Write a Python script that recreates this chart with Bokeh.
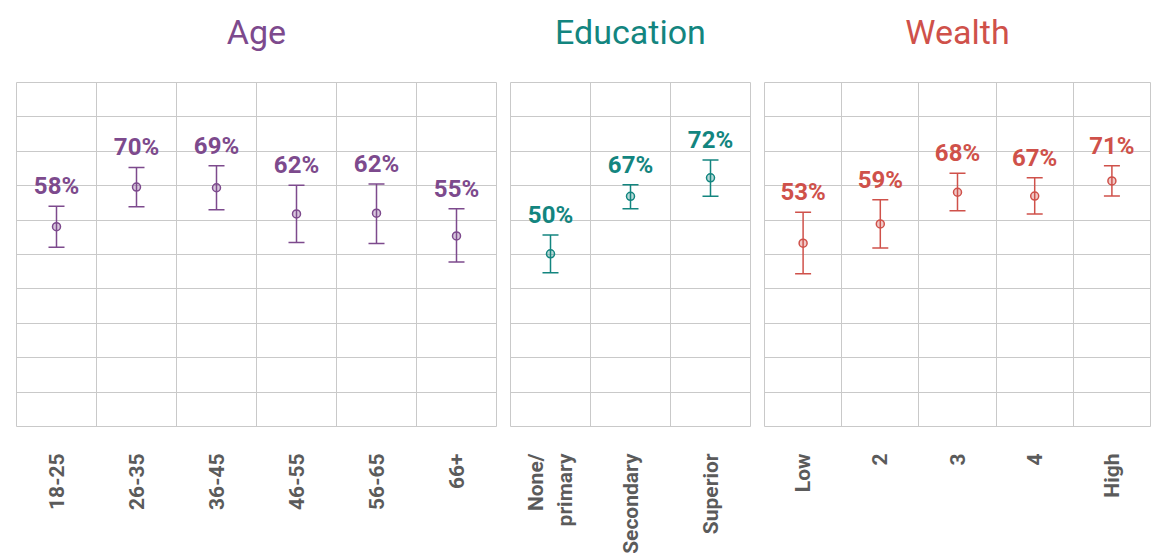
import math
from bokeh.plotting import figure
from bokeh.layouts import row
from bokeh.models import (ColumnDataSource, Whisker, TeeHead, FixedTicker, Grid,
                          Range1d, LabelSet, Title)
from bokeh.core.properties import value
from bokeh.embed import file_html
from bokeh.resources import INLINE

# ---- data (percent) ----
age_cats = ["18-25", "26-35", "36-45", "46-55", "56-65", "66+"]
age_val = [58.1, 69.6, 69.4, 61.8, 62.0, 55.4]
age_low = [52.1, 63.9, 63.0, 53.5, 53.2, 47.8]
age_high = [64.0, 75.3, 75.8, 70.1, 70.5, 63.3]

edu_cats = ["None/\nprimary", "Secondary", "Superior"]
edu_val = [50.2, 66.9, 72.3]
edu_low = [44.7, 63.3, 66.9]
edu_high = [55.7, 70.3, 77.5]

wealth_cats = ["Low", "2", "3", "4", "High"]
wealth_val = [53.3, 58.9, 68.1, 67.0, 71.4]
wealth_low = [44.4, 51.9, 62.7, 61.8, 67.0]
wealth_high = [62.3, 65.9, 73.6, 72.3, 75.8]

titles = ["Age", "Education", "Wealth"]
colors = ["#7D4A8D", "#13857F", "#CF514A"]

GRID = "#c9c9c9"
FONT = "Roboto"
FH = 344


def panel(title, cats, vals, lows, highs, color, fw, bl, br):
    n = len(cats)
    xs = [i + 0.5 for i in range(n)]
    src = ColumnDataSource(dict(
        x=xs, val=vals, low=lows, high=highs,
        label=[f"{round(v)}%" for v in vals],
    ))
    p = figure(frame_width=fw, frame_height=FH, output_backend="svg",
               toolbar_location=None, y_axis_location=None,
               x_range=Range1d(0, n), y_range=Range1d(0, 100),
               min_border_left=bl, min_border_right=br,
               min_border_top=82, min_border_bottom=0)
    # spacer between heading and frame (closest to the frame)
    p.add_layout(Title(text=" ", text_font_size="10px", standoff=4), "above")
    p.add_layout(Title(text=title, align="center", vertical_align="top",
                       text_font=FONT, text_font_style="normal",
                       text_font_size="34px", text_color=color, standoff=23),
                 "above")

    p.outline_line_color = GRID
    p.outline_line_width = 1
    p.xgrid.visible = False
    p.ygrid.visible = False
    p.add_layout(Grid(dimension=0, ticker=FixedTicker(ticks=list(range(1, n))),
                      grid_line_color=GRID, grid_line_width=1))
    p.add_layout(Grid(dimension=1, ticker=FixedTicker(ticks=list(range(0, 101, 10))),
                      grid_line_color=GRID, grid_line_width=1))

    ax = p.xaxis[0]
    ax.ticker = FixedTicker(ticks=xs)
    ax.major_label_overrides = {x: c for x, c in zip(xs, cats)}
    ax.major_label_orientation = math.pi / 2
    ax.major_label_standoff = 21
    ax.major_tick_line_color = None
    ax.minor_tick_line_color = None
    ax.axis_line_color = None
    ax.major_label_text_font = FONT
    ax.major_label_text_font_style = "bold"
    ax.major_label_text_font_size = "21px"
    ax.major_label_text_color = "#5b5b5b"

    head = dict(size=16, line_color=color, line_width=1.5)
    p.add_layout(Whisker(base="x", upper="high", lower="low", source=src,
                         line_color=color, line_width=1.5,
                         upper_head=TeeHead(**head), lower_head=TeeHead(**head)))
    p.scatter("x", "val", source=src, size=8, line_color=color, line_width=1.5,
              fill_color=color, fill_alpha=0.3)
    p.add_layout(LabelSet(x="x", y="high", text="label", source=src,
                          text_align="center", text_baseline="alphabetic",
                          y_offset=12, text_font=value(FONT), text_font_style="bold",
                          text_font_size="24px", text_color=color))
    return p


p1 = panel(titles[0], age_cats, age_val, age_low, age_high, colors[0], 480, 16, 7)
p2 = panel(titles[1], edu_cats, edu_val, edu_low, edu_high, colors[1], 240, 7, 7)
p3 = panel(titles[2], wealth_cats, wealth_val, wealth_low, wealth_high, colors[2], 386, 7, 3)

layout = row(p1, p2, p3, spacing=0)
open("out.html", "w").write(file_html(layout, INLINE))
